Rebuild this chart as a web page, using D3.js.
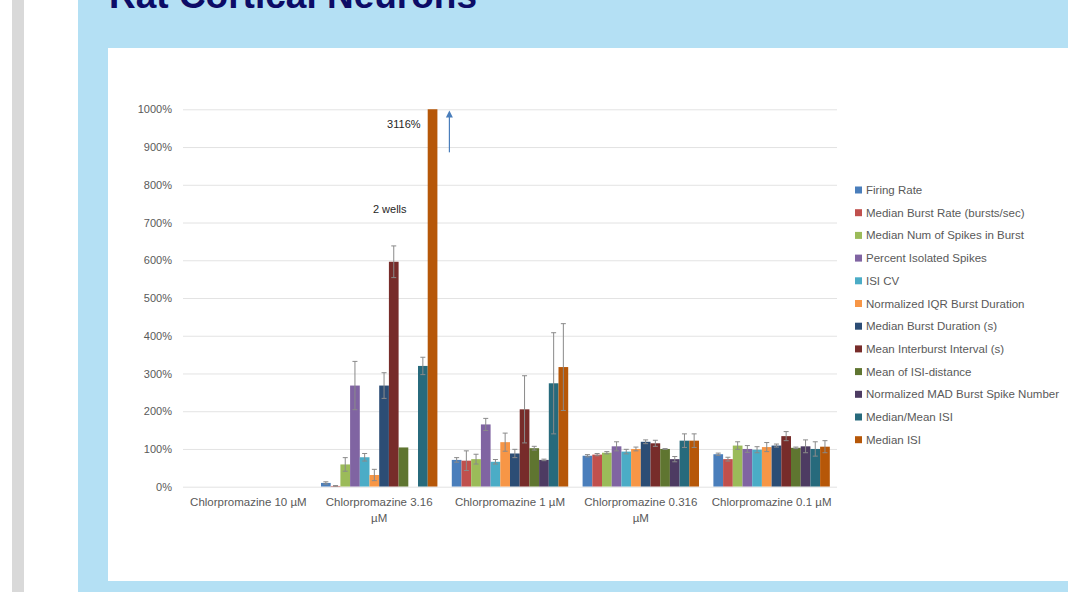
<!DOCTYPE html>
<html>
<head>
<meta charset="utf-8">
<script src="https://cdn.jsdelivr.net/npm/d3@7"></script>
<style>
  html, body { margin: 0; padding: 0; background: #ffffff; }
  svg { display: block; }
</style>
</head>
<body>
<svg id="chart" width="1068" height="592"></svg>
<script>
// Dose groups along the x axis
const categories = [
  "Chlorpromazine 10 µM",
  "Chlorpromazine 3.16 µM",
  "Chlorpromazine 1 µM",
  "Chlorpromazine 0.316 µM",
  "Chlorpromazine 0.1 µM"
];
// Axis label lines for each dose group
const categoryLines = [
  ["Chlorpromazine 10 µM"],
  ["Chlorpromazine 3.16", "µM"],
  ["Chlorpromazine 1 µM"],
  ["Chlorpromazine 0.316", "µM"],
  ["Chlorpromazine 0.1 µM"]
];

// Endpoint names and their bar colours
const seriesNames = [
  "Firing Rate",
  "Median Burst Rate (bursts/sec)",
  "Median Num of Spikes in Burst",
  "Percent Isolated Spikes",
  "ISI CV",
  "Normalized IQR Burst Duration",
  "Median Burst Duration (s)",
  "Mean Interburst Interval (s)",
  "Mean of ISI-distance",
  "Normalized MAD Burst Spike Number",
  "Median/Mean ISI",
  "Median ISI"
];
const seriesColors = [
  "#4a7ebb", "#c0504d", "#9bbb59", "#8064a2", "#4bacc6", "#f79646",
  "#2c4d75", "#772c2a", "#5f7530", "#4d3b62", "#276a7c", "#b65708"
];

// Percent of control, one value per dose group (null = no data)
const firingRate        = [null, 10, 71, 82, 86];
const medianBurstRate   = [null, 2, 69, 85, 73];
const medianNumSpikes   = [null, 59, 73, 90, 109];
const percentIsolated   = [null, 268, 165, 107, 100];
const isiCV             = [null, 78, 66, 93, 98];
const normIQRBurstDur   = [null, 31, 118, 100, 105];
const medianBurstDur    = [null, 268, 88, 119, 109];
const meanInterburst    = [null, 596, 205, 115, 134];
const meanISIDistance   = [null, 104, 102, 100, 103];
const normMADSpikeNum   = [null, null, 71, 73, 107];
const medianMeanISI     = [null, 320, 274, 122, 100];
const medianISI         = [null, 3116, 317, 122, 106];

// Error bar half-lengths (percent)
const firingRateErr      = [null, 3, 6, 3, 3];
const medianBurstRateErr = [null, 1, 26, 3, 5];
const medianNumSpikesErr = [null, 18, 13, 3, 10];
const percentIsolatedErr = [null, 64, 16, 12, 9];
const isiCVErr           = [null, 10, 6, 6, 8];
const normIQRBurstDurErr = [null, 15, 24, 5, 12];
const medianBurstDurErr  = [null, 34, 11, 5, 4];
const meanInterburstErr  = [null, 42, 89, 8, 12];
const meanISIDistanceErr = [null, 0, 5, 1, 2];
const normMADSpikeNumErr = [null, null, 2, 7, 17];
const medianMeanISIErr   = [null, 23, 134, 18, 19];
const medianISIErr       = [null, 0, 115, 18, 16];

const yTicks = [0, 100, 200, 300, 400, 500, 600, 700, 800, 900, 1000];

const seriesValues = [firingRate, medianBurstRate, medianNumSpikes, percentIsolated,
  isiCV, normIQRBurstDur, medianBurstDur, meanInterburst, meanISIDistance,
  normMADSpikeNum, medianMeanISI, medianISI];
const seriesErrors = [firingRateErr, medianBurstRateErr, medianNumSpikesErr,
  percentIsolatedErr, isiCVErr, normIQRBurstDurErr, medianBurstDurErr,
  meanInterburstErr, meanISIDistanceErr, normMADSpikeNumErr, medianMeanISIErr,
  medianISIErr];

// Text notes placed on the 3.16 µM group
const notes = [
  { category: "Chlorpromazine 3.16 µM", series: "Median ISI", text: "3116%", at: 960, anchor: "end", dx: -12 },
  { category: "Chlorpromazine 3.16 µM", series: "Mean Interburst Interval (s)", text: "2 wells", at: 735, anchor: "middle", dx: -4 }
];

const svg = d3.select("#chart");
const W = 1068, H = 592;
const FONT = "'Liberation Sans', Arial, sans-serif";
const TEXT = "#595959";

// Page backdrop
svg.append("rect").attr("width", W).attr("height", H).attr("fill", "#ffffff");
svg.append("rect").attr("x", 12).attr("y", 0).attr("width", 12).attr("height", H).attr("fill", "#d9d9d9");
svg.append("rect").attr("x", 78).attr("y", 0).attr("width", W - 78).attr("height", H).attr("fill", "#b4e0f4");
svg.append("rect").attr("x", 108).attr("y", 48).attr("width", W - 108).attr("height", 533).attr("fill", "#ffffff");

svg.append("text")
  .attr("x", 109).attr("y", 8)
  .attr("font-family", FONT).attr("font-weight", "bold").attr("font-size", 37)
  .attr("fill", "#0c0c66")
  .text("Rat Cortical Neurons");

// Plot area
const plot = { left: 183, right: 837, top: 109.3, bottom: 486.7 };

const x = d3.scaleBand().domain(categories)
  .range([plot.left, plot.right]).paddingInner(0.11).paddingOuter(0.055);
const xs = d3.scaleBand().domain(seriesNames).range([0, x.bandwidth()]).padding(0);
const y = d3.scaleLinear().domain([0, 1000]).range([plot.bottom, plot.top]);

svg.append("defs").append("clipPath").attr("id", "plotClip")
  .append("rect")
  .attr("x", plot.left).attr("y", plot.top)
  .attr("width", plot.right - plot.left).attr("height", plot.bottom - plot.top);

// Gridlines and tick labels
const yAxis = d3.axisLeft(y).tickValues(yTicks)
  .tickSize(-(plot.right - plot.left)).tickPadding(11)
  .tickFormat(d => d + "%");
const gy = svg.append("g").attr("transform", `translate(${plot.left},0)`).call(yAxis);
gy.select(".domain").remove();
gy.selectAll(".tick line").attr("stroke", "#e3e3e3").attr("stroke-width", 1);
gy.selectAll(".tick text")
  .attr("font-family", FONT).attr("font-size", 11).attr("fill", TEXT);

// Bars
const cells = [];
seriesNames.forEach((s, si) => {
  categories.forEach((c, ci) => {
    const v = seriesValues[si][ci];
    if (v == null) return;
    cells.push({ s, c, v, e: seriesErrors[si][ci], color: seriesColors[si] });
  });
});

const bars = svg.append("g").attr("clip-path", "url(#plotClip)");
bars.selectAll("rect").data(cells).join("rect")
  .attr("x", d => x(d.c) + xs(d.s))
  .attr("width", xs.bandwidth())
  .attr("y", d => y(d.v))
  .attr("height", d => y(0) - y(d.v))
  .attr("fill", d => d.color);

// Error bars (symmetric, capped)
const errs = svg.append("g").attr("clip-path", "url(#plotClip)")
  .attr("stroke", "#8a8a8a").attr("stroke-width", 1).attr("fill", "none");
const cap = 2.5;
cells.filter(d => d.e > 0).forEach(d => {
  const cx = x(d.c) + xs(d.s) + xs.bandwidth() / 2;
  const y1 = y(d.v + d.e), y0 = y(Math.max(0, d.v - d.e));
  errs.append("line").attr("x1", cx).attr("x2", cx).attr("y1", y1).attr("y2", y0);
  errs.append("line").attr("x1", cx - cap).attr("x2", cx + cap).attr("y1", y1).attr("y2", y1);
  errs.append("line").attr("x1", cx - cap).attr("x2", cx + cap).attr("y1", y0).attr("y2", y0);
});

// Category labels
const xLabels = svg.append("g");
categories.forEach((c, ci) => {
  const cx = x(c) + x.bandwidth() / 2;
  const t = xLabels.append("text")
    .attr("x", cx).attr("y", 506)
    .attr("text-anchor", "middle")
    .attr("font-family", FONT).attr("font-size", 11.5).attr("fill", TEXT);
  categoryLines[ci].forEach((ln, li) => {
    t.append("tspan").attr("x", cx).attr("dy", li === 0 ? 0 : 16).text(ln);
  });
});

// Notes
notes.forEach(n => {
  svg.append("text")
    .attr("x", x(n.category) + xs(n.series) + xs.bandwidth() / 2 + n.dx)
    .attr("y", y(n.at) + 4)
    .attr("text-anchor", n.anchor)
    .attr("font-family", FONT).attr("font-size", 11).attr("fill", "#262626")
    .text(n.text);
});

// Upward arrow showing the clipped Median ISI bar continues
const arrowX = x("Chlorpromazine 3.16 µM") + x.bandwidth() + 12;
svg.append("line")
  .attr("x1", arrowX).attr("x2", arrowX)
  .attr("y1", y(886)).attr("y2", y(985))
  .attr("stroke", "#4a7ebb").attr("stroke-width", 1.2);
svg.append("path")
  .attr("d", `M${arrowX - 3.5},${y(978)} L${arrowX},${y(997)} L${arrowX + 3.5},${y(978)} Z`)
  .attr("fill", "#4a7ebb");

// Legend
const legend = svg.append("g").attr("transform", "translate(855,190)");
seriesNames.forEach((s, i) => {
  const g = legend.append("g").attr("transform", `translate(0,${i * 22.7})`);
  g.append("rect").attr("x", 0).attr("y", -3.5).attr("width", 7).attr("height", 7)
    .attr("fill", seriesColors[i]);
  g.append("text").attr("x", 11).attr("y", 4)
    .attr("font-family", FONT).attr("font-size", 11.5).attr("fill", TEXT)
    .text(s);
});
</script>
</body>
</html>
